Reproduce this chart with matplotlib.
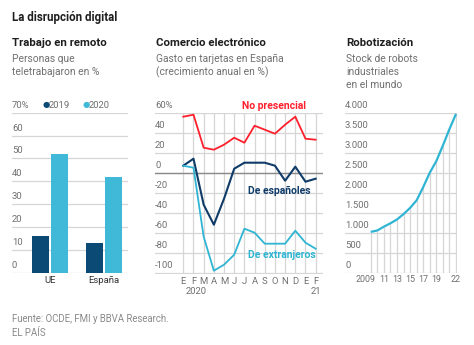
import matplotlib.pyplot as plt
from matplotlib.transforms import ScaledTranslation

plt.rcParams['font.family'] = ['Roboto', 'DejaVu Sans']

# Trabajo en remoto (% de personas)
paises = ['UE', 'España']
remoto_2019 = [16, 13]
remoto_2020 = [52, 42]

# Comercio electrónico: gasto con tarjeta, crecimiento anual (%)
meses = ['E', 'F', 'M', 'A', 'M', 'J', 'J', 'A', 'S', 'O', 'N', 'D', 'E', 'F']
no_presencial = [56, 58, 25, 23, 28, 35, 30, 47, 43, 39, 48, 56, 34, 33]
de_espanoles = [7, 14, -32, -52, -26, 4, 10, 10, 10, 7, -8, 6, -9, -6]
de_extranjeros = [7, 5, -64, -98, -92, -82, -56, -60, -71, -71, -71, -58, -70, -76]

# Robotización: stock mundial de robots industriales (miles)
anios = list(range(2009, 2023))
robots = [1020, 1055, 1150, 1235, 1330, 1465, 1620, 1810, 2140, 2500,
          2790, 3180, 3590, 3970]
anios_etiquetas = {2009: '2009', 2011: '11', 2013: '13', 2015: '15',
                   2017: '17', 2019: '19', 2022: '22'}

NAVY = '#0c4a76'
CYAN = '#3fb9d7'
ROJO = '#ff1f2d'
NAVY_LINEA = '#0f3b68'
CYAN_LINEA = '#2fb5d3'
GRIS_TXT = '#707070'
GRIS_GRID = '#d6d6d6'
TITULO = '#1e1e1e'
FS_TICK = 6.8

W, H = 474, 345
fig = plt.figure(figsize=(W / 100, H / 100), dpi=100)


def ejes(l, t, r, b):
    ax = fig.add_axes([l / W, 1 - b / H, (r - l) / W, (b - t) / H])
    for s in ax.spines.values():
        s.set_visible(False)
    ax.tick_params(left=False, labelleft=False, bottom=False, length=0)
    return ax


def texto(x, y, s, **kw):
    fig.text(x / W, 1 - y / H, s, va='center', ha='left', **kw)


def rejilla(ax, valores, etiquetas, x0):
    for v, et in zip(valores, etiquetas):
        ax.axhline(v, color=GRIS_GRID, lw=0.9, zorder=0)
        ax.annotate(et, (x0, v), xycoords=ax.get_yaxis_transform(),
                    xytext=(0, 2.2), textcoords='offset points',
                    ha='left', va='bottom', fontsize=FS_TICK, color=GRIS_TXT)


# cabeceras
texto(12, 17, 'La disrupción digital', fontsize=8.3, fontweight='bold', color=TITULO)
bloques = [
    (12, 'Trabajo en remoto', ['Personas que', 'teletrabajaron en %']),
    (156, 'Comercio electrónico', ['Gasto en tarjetas en España', '(crecimiento anual en %)']),
    (346, 'Robotización', ['Stock de robots', 'industriales', 'en el mundo']),
]
for x, tit, lineas in bloques:
    texto(x, 43, tit, fontsize=8.2, fontweight='bold', color=TITULO)
    for i, ln in enumerate(lineas):
        texto(x, 58.5 + i * 13.3, ln, fontsize=7.4, color=GRIS_TXT)

# --- Trabajo en remoto ---
ax1 = ejes(12, 112.7, 128, 272.7)
ax1.set_xlim(-0.698, 1.45)
ax1.set_ylim(0, 70)
rejilla(ax1, range(0, 71, 10), ['0', '10', '20', '30', '40', '50', '60', '70%'], 0.0)
pos = range(len(paises))
ax1.bar([p - 0.176 for p in pos], remoto_2019, width=0.315, color=NAVY, zorder=2)
ax1.bar([p + 0.176 for p in pos], remoto_2020, width=0.315, color=CYAN, zorder=2)
ax1.set_xticks(list(pos))
ax1.set_xticklabels(paises, fontsize=FS_TICK, color='#333333')
ax1.tick_params(axis='x', pad=2.5)
texto(42.5, 105, '●', fontsize=6, color=NAVY)
texto(49, 105, '2019', fontsize=FS_TICK, color=GRIS_TXT)
texto(82.5, 105, '●', fontsize=6, color=CYAN)
texto(89, 105, '2020', fontsize=FS_TICK, color=GRIS_TXT)

# --- Comercio electrónico ---
ax2 = ejes(155, 112.7, 323, 274.2)
x2 = range(len(meses))
ax2.set_xlim(-2.78, 13.72)
ax2.set_ylim(-101.5, 60)
rejilla(ax2, range(-100, 61, 20),
        ['-100', '-80', '-60', '-40', '-20', '0', '20', '40', '60%'], 0.0)
ax2.axhline(0, color='#8a8a8a', lw=1.0, zorder=1)
for xi in x2:
    ax2.axvline(xi, color=GRIS_GRID, lw=0.9, zorder=0)
ax2.plot(x2, no_presencial, color=ROJO, lw=1.3, zorder=3)
ax2.plot(x2, de_espanoles, color=NAVY_LINEA, lw=1.5, zorder=3)
ax2.plot(x2, de_extranjeros, color=CYAN_LINEA, lw=1.3, zorder=3)
ax2.text(8.9, 62, 'No presencial', color=ROJO, fontsize=7.5, fontweight='bold',
         ha='center', va='bottom')
ax2.text(9.4, -18, 'De españoles', color=NAVY_LINEA, fontsize=7.5, fontweight='bold',
         ha='center', va='center')
ax2.text(9.7, -82, 'De extranjeros', color=CYAN_LINEA, fontsize=7.5, fontweight='bold',
         ha='center', va='center')
ax2.set_xticks(list(x2))
ax2.set_xticklabels(meses, fontsize=FS_TICK, color=GRIS_TXT)
ax2.tick_params(axis='x', pad=2)
texto(186, 291, '2020', fontsize=FS_TICK, color=GRIS_TXT)
texto(311, 291, '21', fontsize=FS_TICK, color=GRIS_TXT)

# --- Robotización ---
ax3 = ejes(345, 112.7, 457, 272.7)
ax3.set_xlim(2005.08, 2022.15)
ax3.set_ylim(0, 4000)
rejilla(ax3, range(0, 4001, 500),
        ['0', '500', '1.000', '1.500', '2.000', '2.500', '3.000', '3.500', '4.000'], 0.0)
ax3.vlines(anios, 0, robots, color=GRIS_GRID, lw=0.9, zorder=1)
ax3.plot(anios, robots, color=CYAN_LINEA, lw=1.6, zorder=3, solid_capstyle='butt')
ax3.set_xticks(list(anios_etiquetas))
ax3.set_xticklabels(list(anios_etiquetas.values()), fontsize=6.4, color=GRIS_TXT)
ax3.tick_params(axis='x', pad=2)
# la etiqueta 2009 se corre a la izquierda para no pisar el 11
primera = ax3.get_xticklabels()[0]
primera.set_transform(primera.get_transform() + ScaledTranslation(-3.5 / 72, 0, fig.dpi_scale_trans))

# pie
texto(12, 318.5, 'Fuente: OCDE, FMI y BBVA Research.', fontsize=6.9, color='#8a8a8a')
texto(12, 333, 'EL PAÍS', fontsize=6.9, color='#8a8a8a')

fig.savefig('out.png', dpi=100, facecolor='white')
